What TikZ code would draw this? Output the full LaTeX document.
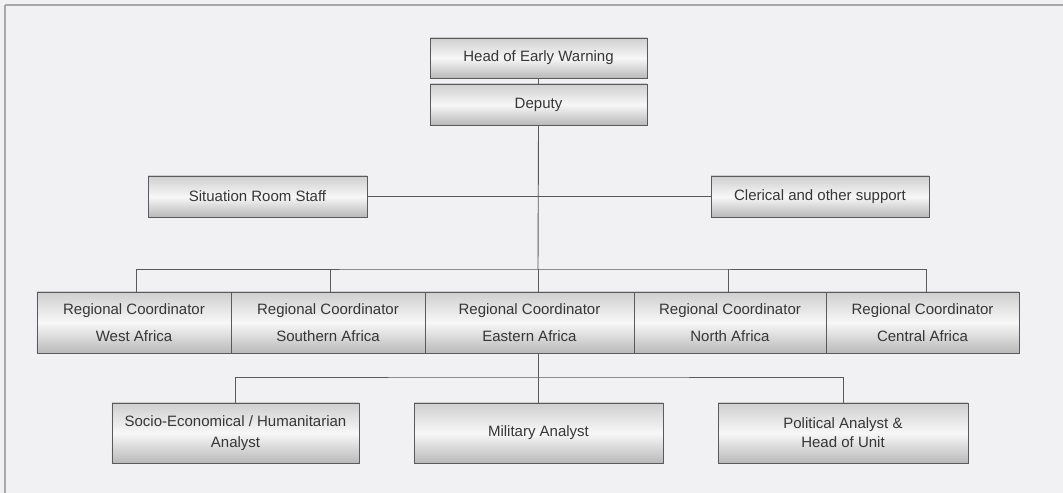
\documentclass[tikz,border=0pt]{standalone}
\usepackage{fontspec}
\setmainfont{Liberation Sans}
\definecolor{paper}{HTML}{F1F1F3}
\definecolor{ink}{HTML}{363636}
\definecolor{edge}{HTML}{5A5A5A}
\definecolor{rule}{HTML}{A8A8A8}
\begin{document}
\begin{tikzpicture}[x=1bp,y=-1bp,
  orgbox/.style={draw=edge, line width=0.9bp, rectangle, inner sep=0pt,
    top color=gray!38, bottom color=gray!55, middle color=gray!6,
    align=center, text=ink, font=\fontsize{15bp}{18bp}\selectfont},
  link/.style={draw=edge, line width=0.9bp}]
  % page background and the page rules along top and left
  \fill[paper] (0,0) rectangle (1063,493);
  \useasboundingbox (0,0) rectangle (1063,493);
  \draw[rule, line width=1.6bp] (5,5) -- (1063,5);
  \draw[rule, line width=1.6bp] (5,5) -- (5,493);

  % top of the hierarchy
  \node[orgbox, minimum width=217bp, minimum height=40bp] (head) at (538.5,58) {Head of Early Warning};
  \node[orgbox, minimum width=217bp, minimum height=41bp] (dep)  at (538.5,104.5) {Deputy};

  % support staff
  \node[orgbox, minimum width=219bp, minimum height=41bp] (sit) at (257.5,196.5) {Situation Room Staff};
  \node[orgbox, minimum width=218bp, minimum height=41bp] (cler) at (820,196.5) {Clerical and other support};

  % regional coordinators
  \begin{scope}[every node/.append style={orgbox, minimum height=61bp,
      font=\fontsize{15bp}{27bp}\selectfont}]
    \node[minimum width=194bp] (wa) at (134,322.5) {Regional Coordinator\\West Africa};
    \node[minimum width=194bp] (sa) at (328,322.5) {Regional Coordinator\\Southern Africa};
    \node[minimum width=209bp] (ea) at (529.5,322.5) {Regional Coordinator\\Eastern Africa};
    \node[minimum width=192bp] (na) at (730,322.5) {Regional Coordinator\\North Africa};
    \node[minimum width=193bp] (ca) at (922.5,322.5) {Regional Coordinator\\Central Africa};
  \end{scope}

  % analysts
  \node[orgbox, minimum width=247bp, minimum height=60bp, font=\fontsize{15bp}{21bp}\selectfont]
    (soc) at (235.5,433) {Socio-Economical / Humanitarian\\Analyst};
  \node[orgbox, minimum width=249bp, minimum height=60bp] (mil) at (538.5,433) {Military Analyst};
  \node[orgbox, minimum width=250bp, minimum height=60bp, font=\fontsize{15bp}{19bp}\selectfont]
    (pol) at (843,433) {Political Analyst \&\\Head of Unit};

  % junction points of the connector buses
  \coordinate (busU) at (538,269);
  \coordinate (busL) at (538,377);

  % connectors
  \draw[link] (head.south) -- (dep.north);
  \draw[link] (dep.south) -- (busU);
  \draw[link] (sit.east) -- (dep.south |- sit.east);
  \draw[link] (cler.west) -- (dep.south |- cler.west);
  \draw[link] ([xshift=2bp]wa.north) |- (busU) -| ([xshift=3.5bp]ca.north);
  \draw[link] ([xshift=2bp]sa.north) -- ([xshift=2bp]sa.north |- busU);
  \draw[link] (busU) -- (busU |- ea.north);
  \draw[link] ([xshift=-2bp]na.north) -- ([xshift=-2bp]na.north |- busU);
  \draw[link] (busU |- ea.south) -- (busL);
  \draw[link] (soc.north) |- (busL) -| (pol.north);
  \draw[link] (busL) -- (busL |- mil.north);
\end{tikzpicture}
\end{document}
